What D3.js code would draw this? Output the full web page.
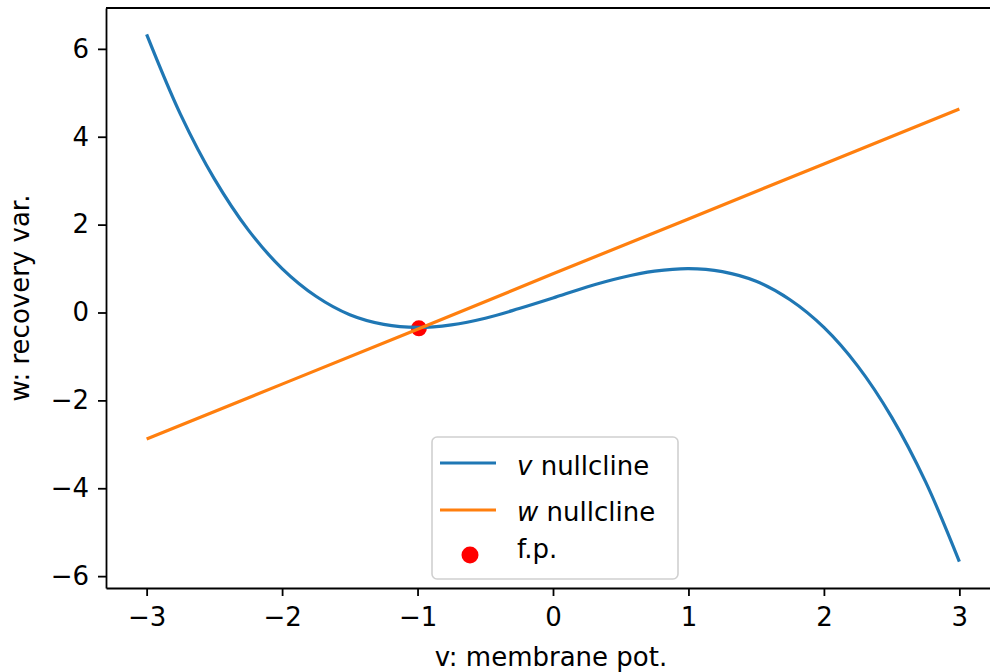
<!DOCTYPE html>
<html>
<head>
<meta charset="utf-8">
<script src="https://cdn.jsdelivr.net/npm/d3@7"></script>
<style>
  body { margin: 0; background: #fff; }
  svg { display: block; }
  text { font-family: "DejaVu Sans", sans-serif; fill: #000; }
</style>
</head>
<body>
<svg id="chart" width="990" height="672"></svg>
<script>
// v nullcline at steps of 0.25
var vGrid = [-3, -2.75, -2.5, -2.25, -2, -1.75, -1.5, -1.25, -1, -0.75, -0.5, -0.25,
             0, 0.25, 0.5, 0.75, 1, 1.25, 1.5, 1.75, 2, 2.25, 2.5, 2.75, 3];
var vNullW = [6.33, 4.51, 3.04, 1.88, 1.00, 0.37, -0.05, -0.27, -0.34, -0.28, -0.13, 0.09,
              0.33, 0.58, 0.79, 0.94, 1.00, 0.93, 0.71, 0.29, -0.34, -1.22, -2.38, -3.85, -5.67];

// w nullcline (straight line)
var wGrid = [-3, -2, -1, 0, 1, 2, 3];
var wNullW = [-2.88, -1.63, -0.38, 0.88, 2.13, 3.38, 4.63];

// fixed point
var fixedPoint = [{v: -0.99, w: -0.36}];

var xTicks = [-3, -2, -1, 0, 1, 2, 3];
var yTicks = [-6, -4, -2, 0, 2, 4, 6];

var blue = "#1f77b4", orange = "#ff7f0e", red = "#ff0000";
var fontSize = 26;

var svg = d3.select("#chart");
// plot box (right edge falls just outside the picture)
var box = {left: 106, top: 8, right: 1000, bottom: 588};

// matplotlib style 5% margins around the data
var xExt = d3.extent(vGrid);
var yExt = d3.extent(vNullW.concat(wNullW));
var xPad = (xExt[1] - xExt[0]) * 0.05, yPad = (yExt[1] - yExt[0]) * 0.05;

var x = d3.scaleLinear().domain([xExt[0] - xPad, xExt[1] + xPad]).range([box.left, box.right]);
var y = d3.scaleLinear().domain([yExt[0] - yPad, yExt[1] + yPad]).range([box.bottom, box.top]);

var plot = svg.append("g");

// scatter sits under the lines, like matplotlib zorder
plot.selectAll("circle.fp")
  .data(fixedPoint)
  .enter().append("circle")
  .attr("class", "fp")
  .attr("cx", function (d) { return x(d.v); })
  .attr("cy", function (d) { return y(d.w); })
  .attr("r", 8)
  .attr("fill", red);

var line = d3.line()
  .x(function (d) { return x(d[0]); })
  .y(function (d) { return y(d[1]); });

plot.append("path")
  .datum(d3.zip(vGrid, vNullW))
  .attr("d", line.curve(d3.curveCatmullRom.alpha(0.5)))
  .attr("fill", "none")
  .attr("stroke", blue)
  .attr("stroke-width", 3.2);

plot.append("path")
  .datum(d3.zip(wGrid, wNullW))
  .attr("d", line.curve(d3.curveLinear))
  .attr("fill", "none")
  .attr("stroke", orange)
  .attr("stroke-width", 3.2);

// axes
var fmt = d3.format("d");
var xAxis = d3.axisBottom(x).tickValues(xTicks).tickFormat(fmt)
  .tickSize(8).tickSizeOuter(0).tickPadding(12);
var yAxis = d3.axisLeft(y).tickValues(yTicks).tickFormat(fmt)
  .tickSize(8).tickSizeOuter(0).tickPadding(9);

var gx = svg.append("g").attr("transform", "translate(0," + box.bottom + ")").call(xAxis);
var gy = svg.append("g").attr("transform", "translate(" + box.left + ",0)").call(yAxis);

[gx, gy].forEach(function (g) {
  g.selectAll("path.domain").attr("stroke", "#000").attr("stroke-width", 1.8);
  g.selectAll(".tick line").attr("stroke", "#000").attr("stroke-width", 1.8);
  g.selectAll(".tick text")
    .style("font-family", "DejaVu Sans")
    .style("font-size", fontSize + "px")
    .attr("fill", "#000");
});

// top and right spines
svg.append("line")
  .attr("x1", box.left).attr("x2", box.right)
  .attr("y1", box.top).attr("y2", box.top)
  .attr("stroke", "#000").attr("stroke-width", 1.8);
svg.append("line")
  .attr("x1", box.right).attr("x2", box.right)
  .attr("y1", box.top).attr("y2", box.bottom)
  .attr("stroke", "#000").attr("stroke-width", 1.8);

// axis labels
svg.append("text")
  .attr("x", (box.left + box.right) / 2 - 2)
  .attr("y", 666)
  .attr("text-anchor", "middle")
  .style("font-size", fontSize + "px")
  .text("v: membrane pot.");

svg.append("text")
  .attr("transform", "translate(29," + (box.top + box.bottom) / 2 + ") rotate(-90)")
  .attr("text-anchor", "middle")
  .style("font-size", fontSize + "px")
  .text("w: recovery var.");

// legend, lower centre
var legW = 246, legH = 142;
var legX = (box.left + box.right) / 2 - legW / 2 + 2, legY = box.bottom - 9 - legH;
var leg = svg.append("g").attr("transform", "translate(" + legX + "," + legY + ")");

leg.append("rect")
  .attr("width", legW).attr("height", legH)
  .attr("rx", 5).attr("ry", 5)
  .attr("fill", "#fff").attr("fill-opacity", 0.8)
  .attr("stroke", "#d0d0d0").attr("stroke-width", 1.6);

var legItems = [
  {kind: "line", color: blue, sym: "v", label: " nullcline", hy: 26, ty: 37.5},
  {kind: "line", color: orange, sym: "w", label: " nullcline", hy: 73, ty: 83.5},
  {kind: "dot", color: red, sym: "", label: "f.p.", hy: 118, ty: 121}
];

legItems.forEach(function (it) {
  if (it.kind === "line") {
    leg.append("line")
      .attr("x1", 8).attr("x2", 64)
      .attr("y1", it.hy).attr("y2", it.hy)
      .attr("stroke", it.color).attr("stroke-width", 3.2);
  } else {
    leg.append("circle")
      .attr("cx", 38).attr("cy", it.hy).attr("r", 8.5)
      .attr("fill", it.color);
  }
  var t = leg.append("text")
    .attr("x", 85).attr("y", it.ty)
    .style("font-size", fontSize + "px");
  if (it.sym) {
    t.append("tspan").style("font-style", "italic").text(it.sym);
  }
  t.append("tspan").text(it.label);
});
</script>
</body>
</html>
